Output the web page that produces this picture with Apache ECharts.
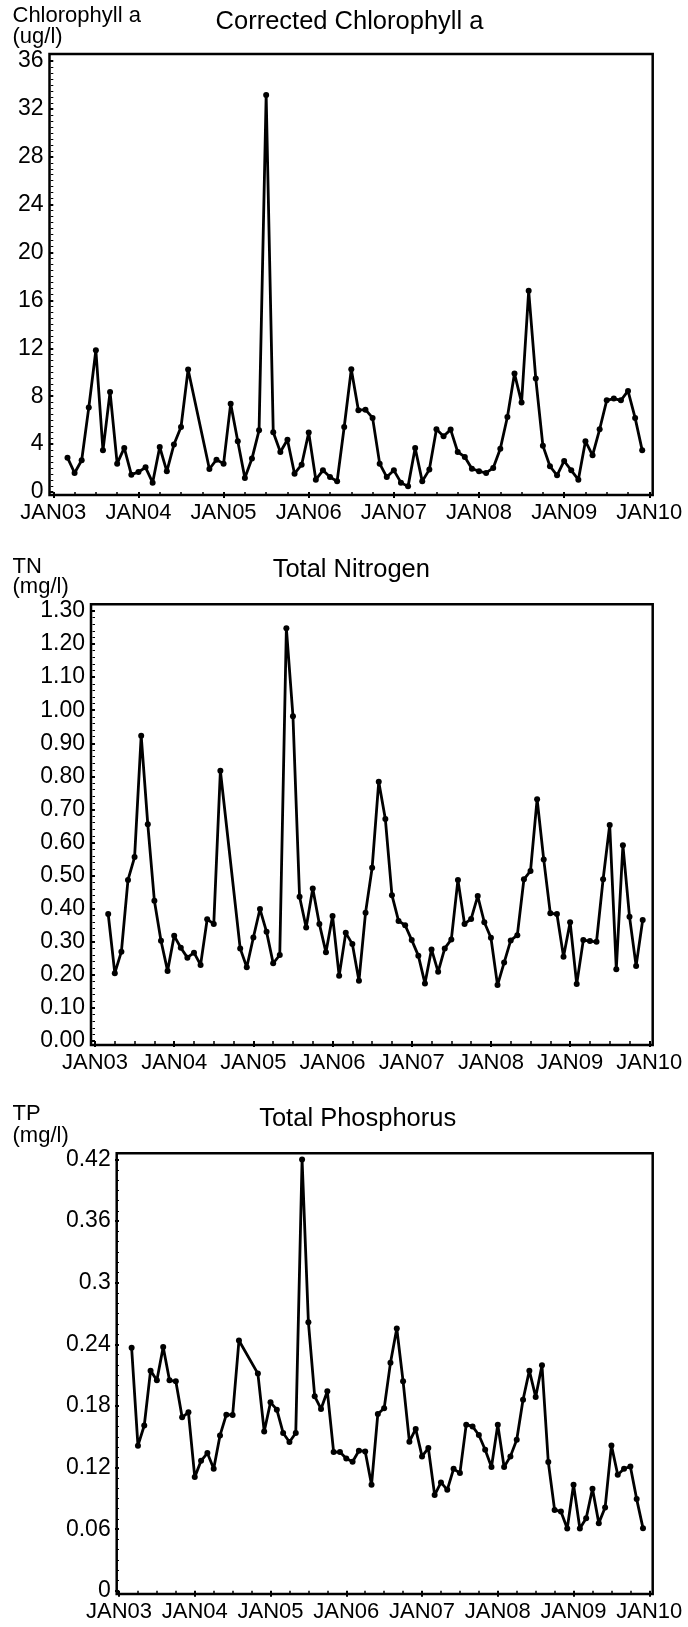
<!DOCTYPE html>
<html>
<head>
<meta charset="utf-8">
<script src="https://cdn.jsdelivr.net/npm/echarts@6/dist/echarts.min.js"></script>
<style>
html,body{margin:0;padding:0;background:#fff;}
#c{width:688px;height:1627px;}
</style>
</head>
<body>
<div id="c"></div>
<script>
// Sampling dates (year-month) shared by the three series
const sampleDates = [
 '2003-03','2003-04','2003-05','2003-06','2003-07','2003-08','2003-09','2003-10','2003-11','2003-12',
 '2004-01','2004-02','2004-03','2004-04','2004-05','2004-06','2004-07','2004-08',
 '2004-11','2004-12','2005-01','2005-02','2005-03','2005-04','2005-05','2005-06','2005-07','2005-08','2005-09','2005-10','2005-11','2005-12',
 '2006-01','2006-02','2006-03','2006-04','2006-05','2006-06','2006-07','2006-08','2006-09','2006-10','2006-11','2006-12',
 '2007-01','2007-02','2007-03','2007-04','2007-05','2007-06','2007-07','2007-08','2007-09','2007-10','2007-11','2007-12',
 '2008-01','2008-02','2008-03','2008-04','2008-05','2008-06','2008-07','2008-08','2008-09','2008-10','2008-11','2008-12',
 '2009-01','2009-02','2009-03','2009-04','2009-05','2009-06','2009-07','2009-08','2009-09','2009-10','2009-11','2009-12'
];
// Corrected Chlorophyll a (ug/l)
const chlValues = [
 2.87,1.59,2.65,7.05,11.84,3.48,8.36,2.37,3.68,1.45,
 1.67,2.06,0.78,3.76,1.73,3.96,5.43,10.23,
 1.92,2.70,2.37,7.38,4.24,1.17,2.79,5.15,33.16,4.99,3.34,4.37,1.53,2.28,
 4.96,1.03,1.81,1.25,0.89,5.43,10.25,6.83,6.88,6.19,2.37,1.25,
 1.81,0.78,0.47,3.68,0.89,1.87,5.24,4.65,5.21,3.34,2.93,1.95,
 1.73,1.59,2.01,3.62,6.27,9.89,7.47,16.8,9.47,3.87,2.15,1.39,
 2.59,1.81,1.03,4.24,3.06,5.24,7.66,7.80,7.66,8.44,6.19,3.48
];
// Total Nitrogen (mg/l)
const tnValues = [
 0.384,0.205,0.270,0.487,0.556,0.923,0.655,0.424,0.303,0.212,
 0.318,0.282,0.252,0.267,0.230,0.368,0.354,0.817,
 0.280,0.223,0.313,0.399,0.330,0.235,0.260,1.248,0.982,0.436,0.343,0.461,0.354,0.268,
 0.378,0.197,0.327,0.293,0.182,0.388,0.524,0.784,0.671,0.441,0.363,0.350,
 0.305,0.258,0.174,0.277,0.209,0.280,0.307,0.487,0.354,0.369,0.438,0.359,
 0.312,0.169,0.237,0.304,0.320,0.489,0.514,0.731,0.549,0.386,0.384,0.255,
 0.359,0.172,0.305,0.302,0.300,0.489,0.653,0.217,0.592,0.376,0.227,0.366
];
// Total Phosphorus (mg/l)
const tpValues = [
 0.2366,0.1413,0.161,0.2144,0.205,0.2375,0.205,0.204,0.1689,0.1738,
 0.1107,0.1266,0.1341,0.1188,0.1513,0.1715,0.1712,0.2437,
 0.2115,0.1552,0.1835,0.1764,0.1537,0.1449,0.1537,0.420,0.2616,0.1894,0.1771,0.1943,0.1351,0.1351,
 0.1289,0.1257,0.1364,0.1357,0.1032,0.1722,0.1777,0.222,0.2554,0.204,0.1452,0.1576,
 0.1309,0.139,0.0932,0.1055,0.0983,0.1188,0.1146,0.1618,0.1601,0.1517,0.1374,0.1205,
 0.1618,0.1205,0.1309,0.1471,0.1861,0.2144,0.1888,0.2196,0.1254,0.0788,0.0772,0.0606,
 0.1032,0.0606,0.0707,0.0993,0.0659,0.0811,0.1416,0.113,0.1188,0.1211,0.0893,0.061
];
// X tick labels (one per January, 2003..2010)
const xTickLabels = ['JAN03','JAN04','JAN05','JAN06','JAN07','JAN08','JAN09','JAN10'];
// Y tick settings
const chlTicks = {min:0, max:36, interval:4};
const tnTicks  = {min:0, max:1.3, interval:0.1};
const tpTicks  = {min:0, max:0.42, interval:0.06};

// month offset since Jan 2003
function monthIndex(s){ const p=s.split('-'); return (parseInt(p[0])-2003)*12 + (parseInt(p[1])-1); }
const xs = sampleDates.map(monthIndex);
const pairs = vals => vals.map((v,i)=>[xs[i], v]);

const FONT = 'Liberation Sans, Arial, sans-serif';
const BLACK = '#000';

const panels = [
  {data:{left:53.3,right:38.7,top:61,bottom:1135}, frame:{left:49.5,right:35.3,top:54,bottom:1132},
   xoff:3, yoff:3.8, ticks:chlTicks, minor:8, fmt:v=>String(Math.round(v)), vals:chlValues},
  {data:{left:95,right:38.7,top:611,bottom:586}, frame:{left:91,right:35.3,top:604.3,bottom:582},
   xoff:4, yoff:4, ticks:tnTicks, minor:5, fmt:v=>v.toFixed(2), vals:tnValues},
  {data:{left:119,right:38.7,top:1159.5,bottom:36.2}, frame:{left:116.7,right:35.3,top:1153.3,bottom:33},
   xoff:3.2, yoff:2.3, ticks:tpTicks, minor:6, fmt:v=>String(parseFloat(v.toFixed(2))), vals:tpValues}
];

const grid=[], xAxis=[], yAxis=[], series=[];
panels.forEach((p,k)=>{
  const gi = grid.length;
  grid.push(Object.assign({show:false, containLabel:false}, p.data));
  grid.push(Object.assign({show:true, borderColor:BLACK, borderWidth:2.5, backgroundColor:'transparent', containLabel:false}, p.frame));
  xAxis.push({
    type:'value', gridIndex:gi, min:0, max:84, interval:12, position:'bottom', offset:p.xoff,
    axisLine:{show:false},
    axisTick:{show:true, inside:false, length:6, lineStyle:{color:BLACK, width:2}},
    minorTick:{show:true, splitNumber:4, length:4, lineStyle:{color:BLACK, width:1.5}},
    splitLine:{show:false},
    axisLabel:{show:true, margin:7, color:BLACK, fontFamily:FONT, fontSize:22,
      showMinLabel:true, showMaxLabel:true, hideOverlap:false,
      formatter:v=>xTickLabels[Math.round(v/12)] || ''}
  });
  yAxis.push({
    type:'value', gridIndex:gi, min:p.ticks.min, max:p.ticks.max, interval:p.ticks.interval,
    position:'left', offset:p.yoff,
    axisLine:{show:false},
    axisTick:{show:true, inside:false, length:4, lineStyle:{color:BLACK, width:2}},
    minorTick:{show:true, splitNumber:p.minor, length:2.5, lineStyle:{color:BLACK, width:1}},
    splitLine:{show:false},
    axisLabel:{show:true, margin:6, color:BLACK, fontFamily:FONT, fontSize:23,
      showMinLabel:true, showMaxLabel:true, hideOverlap:false, formatter:p.fmt}
  });
  xAxis.push({type:'value', gridIndex:gi+1, show:false, min:0, max:1});
  yAxis.push({type:'value', gridIndex:gi+1, show:false, min:0, max:1});
  series.push({
    type:'line', xAxisIndex:2*k, yAxisIndex:2*k, data:pairs(p.vals),
    symbol:'circle', symbolSize:6, showAllSymbol:true,
    lineStyle:{color:BLACK, width:2.8}, itemStyle:{color:BLACK},
    z:5, silent:true, animation:false
  });
});

function txt(x,y,text,size,align){
  return {type:'text', x:x, y:y, silent:true,
    style:{text:text, fill:BLACK, font:size+'px '+FONT, textAlign:align||'left', textVerticalAlign:'middle'}};
}
const graphic = [
  txt(12.5,16,'Chlorophyll a',22), txt(12.5,36.5,'(ug/l)',22), txt(349.5,22,'Corrected Chlorophyll a',25.5,'center'),
  txt(12.5,566.5,'TN',22), txt(12.5,586.5,'(mg/l)',22), txt(351.3,570,'Total Nitrogen',25.5,'center'),
  txt(12.5,1113.5,'TP',22), txt(12.5,1135.5,'(mg/l)',22), txt(357.7,1119,'Total Phosphorus',25.5,'center')
];

const chart = echarts.init(document.getElementById('c'), null, {renderer:'canvas'});
chart.setOption({animation:false, backgroundColor:'#fff', grid, xAxis, yAxis, series, graphic});
</script>
</body>
</html>
